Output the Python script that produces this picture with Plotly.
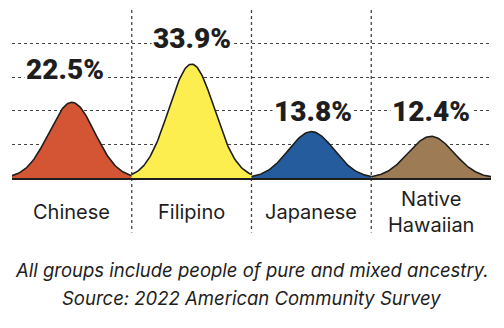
import numpy as np
import plotly.graph_objects as go

categories = ["Chinese", "Filipino", "Japanese", "Native Hawaiian"]
cat_labels = ["Chinese", "Filipino", "Japanese", "Native<br>Hawaiian"]
values = [22.5, 33.9, 13.8, 12.4]
value_labels = ["22.5%", "33.9%", "13.8%", "12.4%"]
colors = ["#D45533", "#FCEE4E", "#255C9D", "#9D7B55"]
label_offsets = [4.4, 2.0, 0.4, 1.8]
label_xshift = [-7, 0, 2, 0]
grid_vals = [10, 20, 30, 40, 50]

INK = "#1e1e1e"
FONT = "Inter"

fig = go.Figure()
sigma = 0.19
for i, (c, v, col) in enumerate(zip(categories, values, colors)):
    dx = np.linspace(-0.5, 0.5, 121)
    y = v * np.exp(-dx**2 / (2 * sigma**2))
    fig.add_trace(go.Scatter(
        x=i + dx, y=y, mode="lines", fill="tozeroy", fillcolor=col,
        line=dict(color=INK, width=1.6), hoverinfo="skip", showlegend=False,
    ))
    fig.add_annotation(
        x=i, y=v + label_offsets[i], xref="x", yref="y", text=value_labels[i],
        showarrow=False, yanchor="bottom", xshift=label_xshift[i],
        bgcolor="white", borderpad=1,
        font=dict(family="Roboto", size=28, color=INK, weight=900),
    )
    fig.add_annotation(
        x=i, y=-0.205, xref="x", yref="paper", text=cat_labels[i],
        showarrow=False, yanchor="middle",
        font=dict(family=FONT, size=20, color=INK),
    )

for xb in [0.5, 1.5, 2.5]:
    fig.add_shape(type="line", xref="x", yref="paper", x0=xb, x1=xb, y0=1, y1=-0.325,
                  line=dict(color="#444", width=1.3, dash="dot"), layer="below")

fig.add_annotation(
    x=0.5, y=-0.55, xref="paper", yref="paper", showarrow=False, yanchor="middle",
    text="<i>All groups include people of pure and mixed ancestry.</i>",
    font=dict(family=FONT, size=18.5, color=INK),
)
fig.add_annotation(
    x=0.5, y=-0.715, xref="paper", yref="paper", showarrow=False, yanchor="middle",
    text="<i>Source: 2022 American Community Survey</i>",
    font=dict(family=FONT, size=18.5, color=INK),
)

fig.update_layout(
    width=504, height=328, margin=dict(l=12, r=13, t=10, b=150),
    paper_bgcolor="white", plot_bgcolor="white",
    xaxis=dict(range=[-0.5, 3.5], showgrid=False, zeroline=False, showticklabels=False,
               showline=True, linecolor=INK, linewidth=1.8, ticks=""),
    yaxis=dict(range=[0, 50], tickvals=grid_vals, showgrid=True, gridcolor="#444",
               griddash="dot", gridwidth=1.3, zeroline=False, showticklabels=False,
               showline=False, ticks=""),
)

fig.write_html("out.html")
